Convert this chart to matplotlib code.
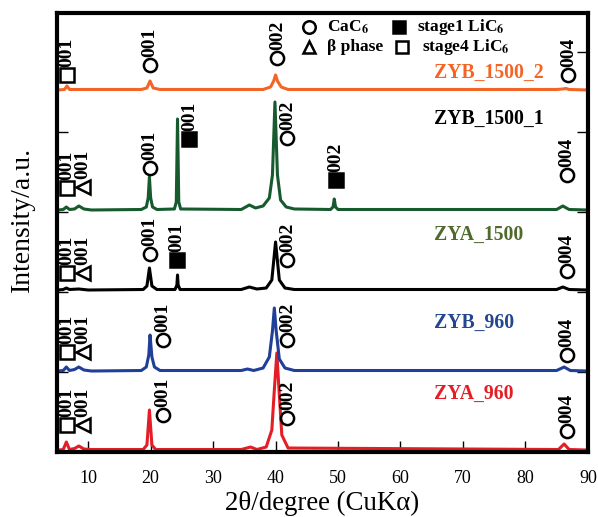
import matplotlib.pyplot as plt

plt.rcParams['font.family'] = ['Liberation Serif', 'DejaVu Sans']
plt.rcParams['mathtext.fontset'] = 'stix'

# XRD patterns (2theta, intensity above baseline, arbitrary units)
zya960_x = [5.2, 6.0, 6.5, 7.0, 7.8, 8.5, 9.3, 10.5, 18.8, 19.4, 19.8, 20.2, 20.8, 34.5, 36.0, 37.0,
            38.5, 39.4, 39.8, 40.2, 40.6, 41.0, 42.0, 85.3, 86.2, 87.0, 90]
zya960_y = [0, 0.5, 8, 0.5, 1.5, 4, 1, 0.5, 0.5, 5, 40, 5, 0.5, 0.5, 3, 0.5,
            3, 20, 60, 97, 55, 15, 2, 0.5, 6, 0.5, 0]

zyb960_x = [5.2, 6.0, 6.5, 7.0, 7.8, 8.5, 9.3, 10.5, 18.5, 19.3, 19.7, 19.9, 20.2, 20.6, 21.5, 34.5,
            35.5, 36.5, 38.0, 39.0, 39.5, 39.8, 40.1, 40.6, 41.5, 43.0, 85.0, 86.2, 87.2, 90]
zyb960_y = [0, 0.5, 4, 0.5, 1.5, 4, 1, 0, 0.5, 4, 16, 36, 14, 4, 0.5, 0.5,
            2, 0.5, 3, 14, 40, 63, 40, 12, 3, 0.5, 0.5, 4, 0.5, 0]

zya1500_x = [5.2, 6.0, 6.5, 7.0, 8.5, 10.0, 18.8, 19.4, 19.8, 20.2, 21.0, 23.9, 24.2, 24.3, 24.4, 24.7,
             34.5, 35.8, 37.0, 38.5, 39.4, 40.0, 40.6, 41.5, 43.0, 85.0, 86.0, 87.0, 90]
zya1500_y = [0, 0.5, 2, 0.5, 1, 0, 0.5, 4, 22, 4, 0.5, 0.5, 5, 15, 5, 0.5,
             0.5, 3, 1, 2, 10, 48, 10, 2, 0.5, 0.5, 3, 0.5, 0]

zyb1500_1_x = [5.2, 6.0, 6.5, 7.0, 7.8, 8.5, 9.3, 10.5, 18.5, 19.3, 19.6, 19.8, 20.0, 20.3, 21.0,
               23.8, 24.1, 24.3, 24.5, 24.8, 34.5, 35.8, 36.8, 38.0, 39.0, 39.5, 39.9, 40.3, 40.8,
               41.7, 43.0, 48.8, 49.2, 49.4, 49.6, 50.0, 85.0, 86.0, 87.0, 90]
zyb1500_1_y = [0, 0.5, 3, 0.5, 1, 4, 1, 0, 0.5, 3, 12, 33, 12, 3, 0.5,
               1, 8, 91, 8, 1, 0.5, 5, 2, 4, 12, 35, 108, 35, 10,
               3, 1, 0.5, 3, 11, 3, 0.5, 0.5, 4, 0.5, 0]

zyb1500_2_x = [5.2, 6.2, 6.6, 7.0, 8.0, 18.5, 19.4, 19.9, 20.4, 21.5, 38.0, 39.2, 39.7, 40.0, 40.3,
               40.9, 42.0, 85.0, 86.0, 86.5, 87.0, 90]
zyb1500_2_y = [0, 0.5, 4, 0.5, 0.5, 0.5, 2, 9, 2, 0.5, 0.5, 3, 9, 15, 9,
               3, 0.5, 0.5, 1, 1.5, 0.5, 0]

names = ['ZYA_960', 'ZYB_960', 'ZYA_1500', 'ZYB_1500_1', 'ZYB_1500_2']
xs = [zya960_x, zyb960_x, zya1500_x, zyb1500_1_x, zyb1500_2_x]
ys = [zya960_y, zyb960_y, zya1500_y, zyb1500_1_y, zyb1500_2_y]
offsets = [2, 81, 162, 242, 362]
line_colors = ['#e31e26', '#1f3f98', '#000000', '#175a2e', '#f26526']
name_colors = ['#e31e26', '#22468f', '#4f6a2c', '#000000', '#f26526']
name_y = [58, 129, 217, 333, 379]

fig, ax = plt.subplots(figsize=(5.98, 5.17), dpi=100)
fig.subplots_adjust(left=0.0953, right=0.983, bottom=0.1257, top=0.9749)

for x, y, off, c in zip(xs, ys, offsets, line_colors):
    ax.plot(x, [v + off for v in y], color=c, lw=2.2, solid_joinstyle='round')

for n, c, ny in zip(names, name_colors, name_y):
    ax.text(65.3, ny, n, color=c, fontsize=14.2, fontweight='bold', va='center', ha='left')

# symbol styles: marker, face colour
sym = {'c': ('o', 'none'), 'q': ('s', 'none'), 't': ('<', 'none'), 'f': ('s', 'black')}

# peak labels: (symbol, text, x, bottom y)
ann = [
    # ZYA_960
    ('q', '001', 6.6, 20), ('t', '001', 9.1, 20), ('c', '001', 22.0, 30), ('c', '002', 41.9, 27),
    ('c', '004', 86.6, 14),
    # ZYB_960
    ('q', '001', 6.6, 93), ('t', '001', 9.1, 93), ('c', '001', 22.0, 105), ('c', '002', 41.9, 105),
    ('c', '004', 86.6, 90),
    # ZYA_1500
    ('q', '001', 6.6, 172), ('t', '001', 9.1, 172), ('c', '001', 19.9, 191), ('f', '001', 24.2, 185),
    ('c', '002', 41.9, 185), ('c', '004', 86.6, 174),
    # ZYB_1500_1
    ('q', '001', 6.6, 257), ('t', '001', 9.1, 258), ('c', '001', 19.9, 277), ('f', '001', 26.2, 306),
    ('c', '002', 41.9, 307), ('f', '002', 49.6, 265), ('c', '004', 86.6, 270),
    # ZYB_1500_2
    ('q', '001', 6.6, 370), ('c', '001', 19.9, 380), ('c', '002', 40.3, 387), ('c', '004', 86.9, 370),
]
for s, t, x, y in ann:
    m, fc = sym[s]
    ax.plot(x, y + 7, marker=m, ms=9.5, mfc=fc, mec='black', mew=1.8, ls='none')
    ax.text(x, y + 15, t, rotation=90, ha='center', va='bottom', fontsize=14, fontweight='bold')

# legend made of symbols
leg = [('o', 'none', 45.4, 425), ('s', 'black', 59.8, 425), ('^', 'none', 45.4, 405), ('s', 'none', 60.3, 405)]
for m, fc, x, y in leg:
    ax.plot(x, y, marker=m, ms=9, mfc=fc, mec='black', mew=1.8, ls='none')
leg_txt = [(r'CaC$_{\mathbf{6}}$', 48.3, 425), (r'stage1 LiC$_{\mathbf{6}}$', 62.7, 425),
           ('β phase', 48.3, 405), (r'stage4 LiC$_{\mathbf{6}}$', 63.5, 405)]
for s, x, y in leg_txt:
    ax.text(x, y, s, ha='left', va='center', fontsize=12.5, fontweight='bold')

ax.set_xlim(5, 90)
ax.set_ylim(0, 439)
ax.set_xticks(range(10, 91, 10))
ax.set_yticks([80, 160, 240, 320, 400])
ax.set_yticklabels([])
ax.tick_params(axis='x', direction='in', length=8, width=1, labelsize=13, pad=13)
ax.tick_params(axis='y', direction='in', length=8, width=1, left=True, right=True)
for sp in ax.spines.values():
    sp.set_linewidth(3)
ax.set_xlabel('2θ/degree (CuKα)', fontsize=19.4, labelpad=3)
fig.text(22 / 598, 1 - 219 / 517, 'Intensity/a.u.', rotation=90, ha='center', va='center', fontsize=20)

plt.savefig('out.png', dpi=100)
